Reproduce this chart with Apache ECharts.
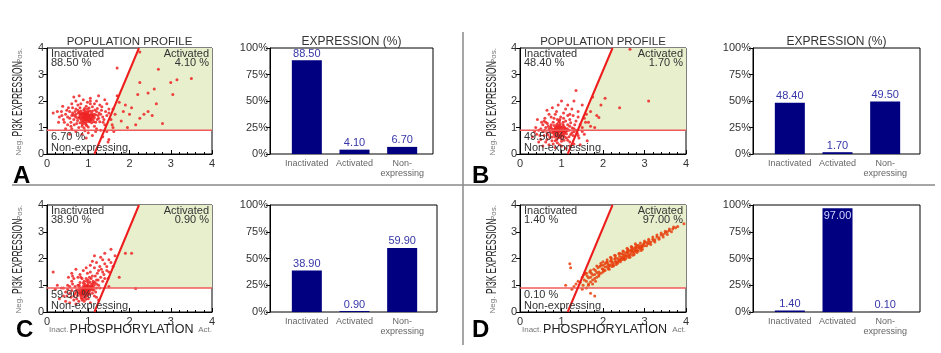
<!DOCTYPE html>
<html><head><meta charset="utf-8">
<script src="https://cdn.jsdelivr.net/npm/echarts@6/dist/echarts.min.js"></script>
<style>html,body{margin:0;padding:0;background:#fff}#c{width:941px;height:353px}</style>
</head><body><div id="c"></div>
<script>
// ---------- DATA ----------
const panelLetters = ['A', 'B', 'C', 'D'];
const barCategories = ['Inactivated', 'Activated', 'Non-\nexpressing'];
const pctA = [88.5, 4.1, 6.7];
const pctB = [48.4, 1.7, 49.5];
const pctC = [38.9, 0.9, 59.9];
const pctD = [1.4, 97.0, 0.1];
const scatterTicks = [0, 1, 2, 3, 4];
const barTicks = [0, 25, 50, 75, 100];
const gateH = 0.9;                       // expression threshold
const gateDiag = [[1.15, 0], [2.23, 4]]; // activation boundary

const pointsA = [
[0.95,1.42],[0.9,1.5],[1.0,1.35],[0.85,1.4],[1.05,1.48],[0.92,1.3],[0.98,1.58],[0.88,1.25],[1.1,1.4],[0.8,1.45],[1.02,1.22],[0.93,1.62],[1.08,1.55],[0.86,1.55],[0.97,1.28],[1.12,1.3],[0.78,1.35],[0.9,1.38],[1.0,1.5],[0.95,1.2],[1.04,1.62],[0.83,1.28],[1.14,1.5],[0.89,1.66],[0.99,1.44],[0.94,1.52],[1.06,1.36],[0.87,1.46],[1.01,1.3],[0.91,1.18],
[0.96,1.46],[1.03,1.41],[0.84,1.34],[0.92,1.56],[1.09,1.46],[0.81,1.52],[1.0,1.26],[0.9,1.44],[1.07,1.28],[0.95,1.36],
[0.93,1.4],[0.97,1.5],[0.87,1.36],[1.03,1.45],[0.9,1.28],[1.0,1.6],[0.83,1.5],[1.07,1.34],[0.95,1.3],[0.88,1.55],[1.12,1.44],[0.79,1.4],[1.0,1.4],[0.92,1.48],[1.05,1.25],[0.85,1.2],[1.15,1.38],[0.76,1.55],[0.98,1.7],[1.1,1.62],[0.72,1.38],[1.18,1.48],[0.94,1.12],[0.82,1.62],[1.02,1.74],[0.68,1.42],[1.22,1.3],[0.86,1.12],[1.08,1.18],[0.74,1.26],[1.16,1.66],[0.91,1.72],[0.64,1.48],[1.26,1.55],[0.8,1.18],[1.13,1.22],[0.7,1.7],[1.24,1.45],[0.96,1.08],[0.78,1.58],
[0.7,1.5],[0.65,1.3],[0.72,1.15],[0.6,1.45],[1.2,1.6],[1.25,1.35],[1.18,1.2],[1.3,1.5],[0.8,1.75],[0.95,1.8],[1.1,1.78],[0.85,1.05],[1.0,1.02],[1.15,1.05],[0.75,1.65],[1.22,1.72],[0.68,1.6],[1.28,1.22],[0.9,0.98],[1.05,1.9],[0.58,1.2],[0.62,1.55],[1.35,1.4],[0.77,1.0],[1.2,0.95],[0.82,1.9],[0.98,1.95],[1.32,1.65],[0.55,1.35],[1.38,1.3],
[0.5,1.4],[0.55,1.6],[0.42,1.2],[0.48,1.65],[0.66,1.1],[1.33,1.78],[1.42,1.6],[1.36,1.2],[1.45,1.45],[0.58,1.05],[0.75,1.85],[1.15,1.9],[1.28,1.85],[0.62,1.75],[0.36,1.45],[1.5,1.7],[0.92,0.88],[1.18,0.85],[0.25,1.6],[1.05,2.0],
[0.45,1.5],[0.4,1.3],[0.5,1.1],[0.35,1.6],[0.3,1.4],[0.15,1.55],[0.52,1.75],[0.6,1.9],[0.7,2.0],[0.88,2.05],[1.05,2.1],[1.2,2.0],[1.45,1.9],[1.4,1.1],[1.5,1.55],[1.45,0.85],[1.3,0.9],[0.7,0.85],[0.6,0.95],[1.0,0.8],[0.85,0.75],[1.1,0.7],[1.55,1.3],[1.6,1.7],[0.45,0.95],[0.38,1.8],[0.55,0.75],[1.25,2.2],[0.78,2.2],[1.4,2.05],[1.58,1.1],[0.95,0.6],[1.35,0.65],[1.5,0.55],[1.48,0.45],[0.65,2.15],[0.28,1.2],[1.62,0.85],
[1.7,3.25],[2.25,3.85],[2.7,3.2],[2.25,2.7],[3.0,2.7],[3.15,2.8],[3.5,2.85],[3.05,2.25],[2.6,2.45],[2.45,2.3],[2.2,2.25],[2.65,1.9],[2.45,1.6],[2.35,1.5],[2.05,1.75],[1.9,1.85],[1.75,1.95],[2.0,1.5],[1.8,1.25],[2.55,1.45],[2.15,1.1],[1.6,1.0],[2.25,1.35],[2.8,1.15],[1.85,1.6],[1.7,2.2],[1.65,1.5],[1.95,1.0]
];
const pointsB = [
[0.95,0.88],[0.9,0.95],[1.0,0.8],[0.85,0.85],[1.05,0.95],[0.92,0.75],[0.98,1.02],[0.88,0.7],[1.1,0.85],[0.8,0.92],[1.02,0.68],[0.93,1.08],[1.08,1.0],[0.86,1.0],[0.97,0.72],[1.12,0.76],[0.78,0.8],[0.9,0.84],[1.0,0.96],[0.95,0.62],[1.04,1.1],[0.83,0.72],[1.14,0.95],[0.89,1.12],[0.99,0.9],[0.94,0.98],[1.06,0.82],[0.87,0.9],[1.01,0.74],[0.91,0.6],[0.96,1.05],[1.03,0.88],
[0.93,0.82],[1.0,0.86],[0.84,0.94],[0.97,0.66],[1.09,0.9],[0.82,0.78],[1.05,0.7],[0.9,1.02],
[0.95,0.92],[0.9,0.78],[1.02,0.84],[0.86,0.96],[1.07,0.78],[0.92,0.88],[0.98,0.7],[0.84,0.86],[1.1,0.94],[0.88,1.06],[1.0,1.02],[0.94,0.66],[0.8,0.86],[1.05,1.04],[0.91,0.72],[1.13,0.88],[0.76,0.96],[0.97,1.14],[1.08,0.64],[0.85,0.64],[1.18,0.9],[0.72,0.84],[1.0,0.58],[0.93,1.2],[1.15,1.1],[0.74,1.02],[1.22,0.74],[0.82,1.08],[1.04,1.2],[0.68,0.72],[1.26,0.98],[0.88,0.54],[1.12,0.6],[0.78,0.64],[0.96,1.3],[1.2,1.3],[0.66,1.15],[1.3,0.84],[0.9,1.3],[1.06,0.52],
[0.7,0.95],[0.65,0.8],[0.72,0.62],[0.6,0.9],[1.2,1.05],[1.25,0.8],[1.18,0.65],[1.3,0.95],[0.8,1.2],[0.95,1.25],[1.1,1.25],[0.85,0.5],[1.0,0.48],[1.15,0.52],[0.75,1.1],[1.22,1.18],[0.68,1.05],[1.28,0.7],[0.9,0.42],[1.05,1.35],[0.58,0.7],[0.62,1.0],[1.35,0.9],[0.77,0.5],[1.2,0.45],[0.82,1.35],[0.98,1.4],[1.32,1.1],[0.55,0.85],[1.38,0.78],
[0.5,0.95],[0.55,1.1],[0.48,0.7],[0.58,1.25],[0.65,0.55],[1.35,1.25],[1.45,1.1],[1.4,0.7],[1.5,0.85],[0.8,0.38],[0.75,1.4],[1.15,1.45],[1.28,1.45],[0.62,1.2],[0.35,0.85],[1.55,1.35],[0.95,0.35],[1.2,0.3],[1.1,1.7],[0.85,1.5],
[0.45,0.9],[0.4,0.75],[0.5,0.55],[0.38,1.0],[0.52,1.2],[0.6,1.35],[0.7,1.5],[0.88,1.6],[1.05,1.55],[1.2,1.5],[1.4,1.4],[1.42,0.6],[1.5,1.0],[1.45,0.35],[1.3,0.38],[0.7,0.35],[0.62,0.45],[1.0,0.3],[0.85,0.25],[1.1,0.22],[1.55,0.75],[1.58,1.2],[0.45,0.45],[0.42,1.3],[0.55,0.3],[1.25,1.7],[0.78,1.75],[1.4,1.6],[1.0,2.0],[1.35,2.4],[1.15,1.85],[0.92,1.85],[0.65,1.65],[1.62,0.5],[1.3,2.0],[1.5,1.85],[1.6,1.5],[0.3,0.65],
[1.75,2.15],[2.05,2.1],[1.95,1.85],[2.4,1.75],[3.1,2.0],[1.85,1.45],[1.9,1.38],[1.65,1.2],[1.7,1.05],[2.65,3.95],[1.7,1.6],[1.8,1.0]
];
const pointsC = [
[0.95,0.85],[0.9,0.8],[1.0,0.9],[0.85,0.75],[1.05,0.95],[0.92,0.7],[0.98,1.0],[0.88,0.88],[1.1,0.82],[0.8,0.7],[1.02,0.72],[0.93,0.95],[1.08,1.05],[0.86,0.62],[0.97,0.78],[1.12,0.92],[0.78,0.82],[0.9,0.65],[1.0,1.08],[0.95,0.6],[1.04,0.82],[0.83,0.9],[1.14,1.0],[0.89,0.98],[0.99,0.68],[0.94,0.75],[1.06,0.88],[0.87,0.8],[1.01,0.98],[0.91,0.55],[0.96,0.92],[0.82,0.6],
[0.93,0.86],[1.0,0.78],[0.86,0.7],[0.97,0.94],[1.09,0.96],[0.84,0.82],[1.03,0.66],[0.9,0.9],
[0.94,0.82],[0.89,0.76],[1.01,0.86],[0.86,0.8],[1.06,0.9],[0.9,0.72],[0.97,0.96],[0.84,0.68],[1.08,0.98],[0.8,0.76],[0.99,0.62],[0.92,1.04],[1.12,1.08],[0.87,0.92],[0.95,0.7],[1.04,1.12],[0.76,0.72],[0.93,0.58],[1.02,0.78],[0.81,0.66],[1.16,1.1],[0.88,1.08],[0.98,0.84],[0.83,0.52],[1.1,0.7],[0.74,0.62],[1.2,1.05],[0.96,1.15],[0.79,0.92],[1.07,1.25],[0.72,0.82],[1.14,0.82],[0.9,1.15],[0.86,0.5],[1.24,1.2],[0.68,0.68],[1.03,1.3],[0.78,1.0],[1.17,1.35],[0.94,0.48],
[0.7,0.75],[0.65,0.6],[0.72,0.5],[0.6,0.8],[1.2,1.2],[1.25,1.0],[1.18,0.75],[1.3,1.3],[0.8,1.1],[0.95,1.25],[1.1,1.35],[0.85,0.45],[1.0,0.5],[1.15,0.6],[0.75,1.0],[1.22,1.45],[0.68,0.95],[1.28,0.9],[0.9,0.4],[1.05,1.5],[0.58,0.55],[0.62,1.05],[1.35,1.15],[0.77,0.4],[1.2,0.55],[0.82,1.3],[0.98,1.45],[1.32,1.6],[0.55,0.7],[1.38,1.4],[1.0,1.2],[1.12,1.15],
[0.5,0.85],[0.55,0.95],[0.48,0.6],[0.6,1.15],[0.65,0.45],[1.35,1.5],[1.45,1.7],[1.4,1.25],[1.5,1.5],[0.8,1.4],[0.75,1.3],[1.15,1.65],[1.28,1.7],[0.62,1.35],[1.25,1.55],[1.55,1.85],[0.85,1.25],[1.1,1.9],[0.4,0.9],[1.2,0.9],
[0.45,0.75],[0.4,0.6],[0.5,1.0],[0.35,0.9],[0.52,1.3],[0.6,1.45],[0.7,1.6],[0.88,1.55],[1.05,1.75],[1.2,1.85],[1.4,1.8],[1.45,1.55],[1.5,1.95],[1.4,2.2],[1.3,2.05],[1.15,2.1],[1.55,2.35],[1.6,1.7],[0.3,0.5],[0.25,1.0],[0.15,1.5],[0.2,0.85],[0.45,0.4],[0.55,0.35],[0.65,1.25],[1.48,1.25],[1.5,0.95],[0.7,0.3],[1.05,0.35],[1.25,0.45],[0.95,1.65],[1.65,2.1],[1.35,1.95],
[1.9,2.2],[2.05,2.2],[1.75,1.3],[2.15,0.88]
];
const pointsD = [
[1.45,1.1],[1.5,1.3],[1.52,1.0],[1.55,1.2],[1.58,1.45],[1.6,1.15],[1.62,1.35],[1.65,1.05],[1.68,1.5],[1.7,1.3],[1.72,1.45],[1.75,1.2],[1.78,1.6],[1.8,1.4],[1.82,1.55],[1.85,1.3],[1.88,1.65],[1.9,1.5],[1.92,1.7],[1.95,1.45],[1.98,1.62],[2.0,1.75],[2.02,1.55],[2.05,1.68],[2.08,1.85],[2.1,1.7],[2.12,1.8],[2.15,1.6],[2.18,1.9],[2.2,1.78],[2.22,1.88],[2.25,1.82],[2.28,1.98],[2.3,1.9],[2.32,1.85],[2.35,2.0],[2.38,1.95],[2.4,2.08],[2.42,1.98],[2.45,2.05],[2.48,2.15],[2.5,2.05],[2.52,2.12],[2.55,2.2],[2.58,2.1],[2.6,2.22],[2.62,2.15],[2.65,2.28],[2.68,2.2],[2.7,2.3],[2.72,2.25],[2.75,2.35],[2.78,2.28],[2.8,2.4],[2.82,2.32],[2.85,2.42],[2.88,2.38],[2.9,2.48],[2.93,2.42],[2.95,2.5],[2.98,2.55],[3.0,2.48],[3.05,2.6],[3.08,2.55],[3.1,2.65],[3.15,2.62],[3.2,2.72],[3.25,2.7],[3.3,2.8],[3.35,2.78],[3.4,2.88],[3.45,2.9],[3.5,2.95],[3.55,3.0],[3.6,3.05],[3.68,3.1],[3.75,3.15],[3.8,3.2],
[2.2,1.95],[2.25,1.72],[2.3,2.02],[2.35,1.88],[2.4,1.92],[2.45,2.18],[2.5,1.98],[2.55,2.08],[2.6,2.3],[2.65,2.12],[2.7,2.38],[2.75,2.22],[2.8,2.3],[2.85,2.5],[2.9,2.38],[2.95,2.45],[3.0,2.6],[2.1,1.88],[2.0,1.6],[1.95,1.75],[2.15,1.75],[2.05,1.8],[1.85,1.48],[1.75,1.38],[1.65,1.28],[2.48,2.02],[2.58,2.25],[2.68,2.32],[2.78,2.42],[3.12,2.58],[3.22,2.66],[1.9,1.35],[1.8,1.25],[1.7,1.12],[2.0,1.5],
[1.85,1.72],[1.9,1.4],[1.95,1.82],[2.0,1.88],[2.05,1.55],[2.1,1.95],[2.15,1.7],[2.2,2.02],[2.25,1.75],[2.3,2.1],[2.35,1.82],[2.4,2.2],[2.45,1.95],[2.5,2.25],[2.55,2.0],[2.6,2.35],[2.65,2.05],[2.7,2.42],[2.75,2.15],[2.8,2.5],[2.85,2.28],[2.9,2.58],[2.95,2.35],[3.0,2.65],[3.05,2.48],[3.1,2.72],[3.15,2.52],[3.2,2.8],[3.25,2.62],[3.3,2.88],[3.35,2.72],[3.4,2.95],[3.45,2.8],[3.5,3.02],[3.55,2.9],[3.6,3.1],[3.65,3.0],[3.7,3.18],[2.12,1.62],[2.22,1.7],[2.32,1.78],[2.42,1.88],[2.52,1.95],[2.62,2.05],[2.72,2.12],[2.82,2.22],[2.92,2.3],[2.18,2.05],[2.28,2.12],[2.38,2.18],[2.48,2.28],[2.58,2.38],[2.68,2.45],[2.78,2.55],[1.6,1.45],[1.7,1.55],[1.75,1.05],[1.65,1.0],[1.55,1.4],[1.82,1.15],
[1.2,1.8],[1.22,1.65],[1.1,1.0],[1.3,0.95],[1.8,0.6],[1.25,0.85],[1.35,1.05],[1.5,0.85],[1.6,0.9],[1.7,0.7],[3.95,3.3],[1.4,1.15]
];
const pointSets = [pointsA, pointsB, pointsC, pointsD];
const pctSets = [pctA, pctB, pctC, pctD];
const showTitles = [true, true, false, false];
const showXName = [false, false, true, true];

// ---------- LAYOUT ----------
const L = [
  {sx:47,  sw:165, top:48,  h:106, bx:270, bw:163, ix:283, iw:143, lx:13,  ly:176, an:18},
  {sx:520, sw:166, top:48,  h:106, bx:753, bw:167, ix:766, iw:143, lx:472, ly:176, an:492},
  {sx:47,  sw:165, top:205, h:107, bx:270, bw:167, ix:283, iw:143, lx:16,  ly:330, an:18},
  {sx:520, sw:166, top:205, h:107, bx:753, bw:167, ix:766, iw:143, lx:472, ly:330, an:492}
];

const FONT = 'Arial, "Liberation Sans", sans-serif';
const grids = [], xAxes = [], yAxes = [], series = [], graphics = [];

// activated region derived from the gate
const xAtH = gateDiag[0][0] + (gateDiag[1][0] - gateDiag[0][0]) * gateH / gateDiag[1][1];
const activatedRegion = [[xAtH, gateH], [4, gateH], [4, 4], [gateDiag[1][0], 4]];

function txt(x, y, text, o) {
  o = o || {};
  return {type:'text', x:x, y:y, rotation:o.rot||0, scaleX:o.sx||1, z:10,
    style:{text:text, font:o.font||('11px '+FONT), fill:o.fill||'#333',
      textAlign:o.align||'left', align:o.align||'left',
      textVerticalAlign:'middle', verticalAlign:'middle'}};
}

L.forEach((p, i) => {
  const pts = pointSets[i], pct = pctSets[i];
  const gs = grids.length;
  grids.push({left:p.sx, top:p.top, width:p.sw, height:p.h, show:true, borderColor:'#000', borderWidth:1, backgroundColor:'#fff'});
  xAxes.push({gridIndex:gs, type:'value', min:0, max:4, interval:1,
    axisLine:{show:true, lineStyle:{color:'#000'}}, splitLine:{show:false},
    axisTick:{show:true, inside:true, length:4, lineStyle:{color:'#000'}},
    minorTick:{show:true, splitNumber:5, length:2, lineStyle:{color:'#000'}},
    axisLabel:{color:'#333', fontSize:11, fontFamily:FONT, margin:4}});
  yAxes.push({gridIndex:gs, type:'value', min:0, max:4, interval:1,
    axisLine:{show:true, lineStyle:{color:'#000'}}, splitLine:{show:false},
    axisTick:{show:true, length:4, lineStyle:{color:'#000'}},
    axisLabel:{color:'#333', fontSize:11, fontFamily:FONT, margin:3}});
  const ax = xAxes.length - 1;
  series.push({type:'custom', xAxisIndex:ax, yAxisIndex:ax, z:1, silent:true,
    data:[[0,0]], renderItem:(params, api) => ({type:'polygon',
      shape:{points:activatedRegion.map(q => api.coord(q))}, style:{fill:'#e7efcd'}})});
  series.push({type:'scatter', xAxisIndex:ax, yAxisIndex:ax, z:2, data:pts, symbolSize:3,
    itemStyle:{color: i === 3 ? '#e8400c' : '#ee2222', opacity:0.85}});
  series.push({type:'line', xAxisIndex:ax, yAxisIndex:ax, z:3, data:[[0,gateH],[4,gateH]],
    symbol:'none', lineStyle:{color:'#f05a5a', width:1.5}});
  series.push({type:'line', xAxisIndex:ax, yAxisIndex:ax, z:3, data:gateDiag, clip:true,
    symbol:'none', lineStyle:{color:'#ee1c1c', width:2}});

  const gf = grids.length;
  grids.push({left:p.bx, top:p.top, width:p.bw, height:p.h, show:true, borderColor:'#000', borderWidth:1});
  xAxes.push({gridIndex:gf, type:'value', min:0, max:1, show:false});
  yAxes.push({gridIndex:gf, type:'value', min:0, max:100, interval:25,
    axisLine:{show:true, lineStyle:{color:'#000'}}, splitLine:{show:false},
    axisTick:{show:true, length:4, lineStyle:{color:'#000'}},
    axisLabel:{color:'#333', fontSize:11, fontFamily:FONT, margin:2, formatter:v => v + '%'}});
  const gi = grids.length;
  grids.push({left:p.ix, top:p.top, width:p.iw, height:p.h});
  xAxes.push({gridIndex:gi, type:'category', data:barCategories,
    axisLine:{show:false}, axisTick:{show:false},
    axisLabel:{color:'#666', fontSize:9, fontFamily:FONT, margin:5, lineHeight:10, interval:0}});
  yAxes.push({gridIndex:gi, type:'value', min:0, max:100, show:false});
  const bi = xAxes.length - 1;
  series.push({type:'bar', xAxisIndex:bi, yAxisIndex:bi, barWidth:30,
    itemStyle:{color:'#000080'},
    label:{show:true, position:'top', distance:1, color:'#3636a8', fontSize:11, fontFamily:FONT,
      formatter:d => d.value.toFixed(2)},
    data:pct.map(v => v > 95 ? {value:v, label:{position:'insideTop', distance:2, color:'#d4d4ff'}} : v)});

  const t1 = p.top + 6, t2 = p.top + 15, b1 = p.top + p.h - 17, b2 = p.top + p.h - 6;
  graphics.push(txt(p.sx + 4, t1, barCategories[0]));
  graphics.push(txt(p.sx + 4, t2, pct[0].toFixed(2) + ' %'));
  graphics.push(txt(p.sx + p.sw - 3, t1, barCategories[1], {align:'right'}));
  graphics.push(txt(p.sx + p.sw - 3, t2, pct[1].toFixed(2) + ' %', {align:'right'}));
  graphics.push(txt(p.sx + 4, b1, pct[2].toFixed(2) + ' %'));
  graphics.push(txt(p.sx + 4, b2, 'Non-expressing'));
  if (showTitles[i]) {
    graphics.push(txt(p.sx + p.sw / 2, p.top - 6, 'POPULATION PROFILE', {align:'center', font:'11.5px ' + FONT}));
    graphics.push(txt(p.bx + p.bw / 2, p.top - 6, 'EXPRESSION (%)', {align:'center', font:'12px ' + FONT}));
  }
  graphics.push(txt(p.an, p.top + p.h * 0.48, 'PI3K EXPRESSION', {align:'center', rot:Math.PI / 2, sx:0.56, font:'15px ' + FONT, fill:'#222'}));
  graphics.push(txt(p.an + 2, p.top + 8, 'Pos.', {align:'center', rot:Math.PI / 2, font:'8px ' + FONT, fill:'#777'}));
  graphics.push(txt(p.an + 1, p.top + p.h - 7, 'Neg.', {align:'center', rot:Math.PI / 2, font:'8px ' + FONT, fill:'#777'}));
  if (showXName[i]) {
    const yN = p.top + p.h + 18;
    graphics.push(txt(p.sx + 2, yN, 'Inact.', {font:'8px ' + FONT, fill:'#777'}));
    graphics.push(txt(p.sx + p.sw / 2 + 2, yN, 'PHOSPHORYLATION', {align:'center', font:'12.5px ' + FONT, fill:'#222'}));
    graphics.push(txt(p.sx + p.sw, yN, 'Act.', {align:'right', font:'8px ' + FONT, fill:'#777'}));
  }
  graphics.push(txt(p.lx, p.ly, panelLetters[i], {font:'bold 24px ' + FONT, fill:'#000'}));
});

graphics.push({type:'line', z:5, shape:{x1:12, y1:185, x2:935, y2:185}, style:{stroke:'#888', lineWidth:1.5}});
graphics.push({type:'line', z:5, shape:{x1:463, y1:32, x2:463, y2:345}, style:{stroke:'#888', lineWidth:1.5}});

const chart = echarts.init(document.getElementById('c'));
chart.setOption({
  animation:false, backgroundColor:'#fff',
  grid:grids, xAxis:xAxes, yAxis:yAxes, series:series, graphic:{elements:graphics}
});
</script></body></html>
